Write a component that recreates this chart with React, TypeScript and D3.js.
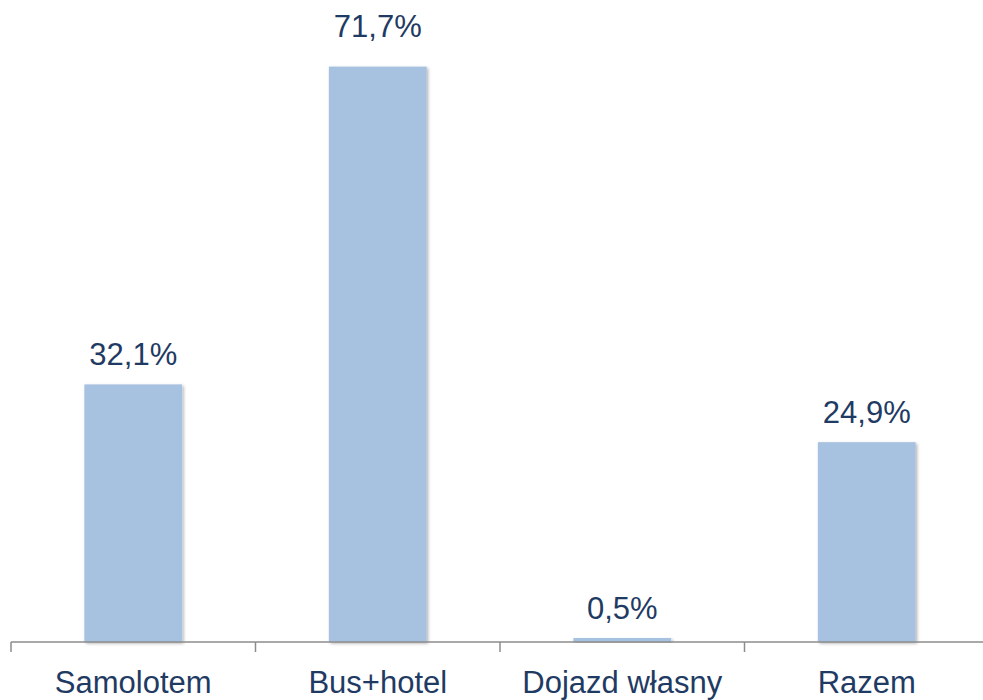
import React, { useEffect, useRef } from "react";
import * as d3 from "d3";

const categories = ["Samolotem", "Bus+hotel", "Dojazd własny", "Razem"];
const values = [32.1, 71.7, 0.5, 24.9];
const valueLabels = ["32,1%", "71,7%", "0,5%", "24,9%"];

const App = () => {
  const svgRef = useRef<SVGSVGElement>(null);

  useEffect(() => {
    draw();
  }, []);

  const draw = () => {
    const width = 983;
    const height = 700;
    const baseline = 642;

    const svg = d3.select(svgRef.current);
    svg.selectAll("*").remove();

    // soft drop shadow on bars
    const defs = svg.append("defs");
    defs
      .append("filter")
      .attr("id", "shadow")
      .attr("x", "-10%")
      .attr("y", "-10%")
      .attr("width", "130%")
      .attr("height", "130%")
      .append("feDropShadow")
      .attr("dx", 1.5)
      .attr("dy", 1.5)
      .attr("stdDeviation", 1.5)
      .attr("flood-color", "#000")
      .attr("flood-opacity", 0.3);

    const x = d3
      .scaleBand()
      .domain(categories)
      .range([11, 989])
      .paddingInner(0.6)
      .paddingOuter(0.3);

    const y = d3.scaleLinear().domain([0, 80]).range([baseline, 0]);

    const data = categories.map((c, i) => ({
      name: c,
      value: values[i],
      label: valueLabels[i],
    }));
    const maxVal = d3.max(values)!;

    // bars
    svg
      .append("g")
      .selectAll("rect")
      .data(data)
      .join("rect")
      .attr("x", (d) => x(d.name)!)
      .attr("y", (d) => y(d.value))
      .attr("width", x.bandwidth())
      .attr("height", (d) => baseline - y(d.value))
      .attr("fill", "#A7C1E0")
      .attr("filter", "url(#shadow)");

    // axis line + ticks
    const step = x.step();
    const tickPos = d3.range(categories.length + 1).map((i) => 11 + i * step);
    const axis = svg.append("g").attr("stroke", "#8C8C8C").attr("stroke-width", 1.5);
    axis
      .append("line")
      .attr("x1", 11)
      .attr("x2", 989)
      .attr("y1", baseline)
      .attr("y2", baseline);
    axis
      .selectAll("line.tick")
      .data(tickPos)
      .join("line")
      .attr("class", "tick")
      .attr("x1", (d) => d)
      .attr("x2", (d) => d)
      .attr("y1", baseline)
      .attr("y2", baseline + 10);

    // value labels (the tallest one sits higher, near the top edge)
    svg
      .append("g")
      .attr("text-anchor", "middle")
      .attr("font-family", "Liberation Sans, Arial, sans-serif")
      .attr("font-size", 31)
      .attr("fill", "#1F3B63")
      .selectAll("text")
      .data(data)
      .join("text")
      .attr("x", (d) => x(d.name)! + x.bandwidth() / 2)
      .attr("y", (d) => (d.value === maxVal ? 37 : y(d.value) - 19))
      .text((d) => d.label);

    // category labels
    svg
      .append("g")
      .attr("text-anchor", "middle")
      .attr("font-family", "Liberation Sans, Arial, sans-serif")
      .attr("font-size", 31)
      .attr("fill", "#1F3B63")
      .selectAll("text")
      .data(categories)
      .join("text")
      .attr("x", (d) => x(d)! + x.bandwidth() / 2)
      .attr("y", 693)
      .text((d) => d);

    svg.attr("width", width).attr("height", height);
  };

  return (
    <svg
      ref={svgRef}
      width={983}
      height={700}
      style={{ position: "absolute", left: 0, top: 0, background: "#fff" }}
    />
  );
};

export default App;
